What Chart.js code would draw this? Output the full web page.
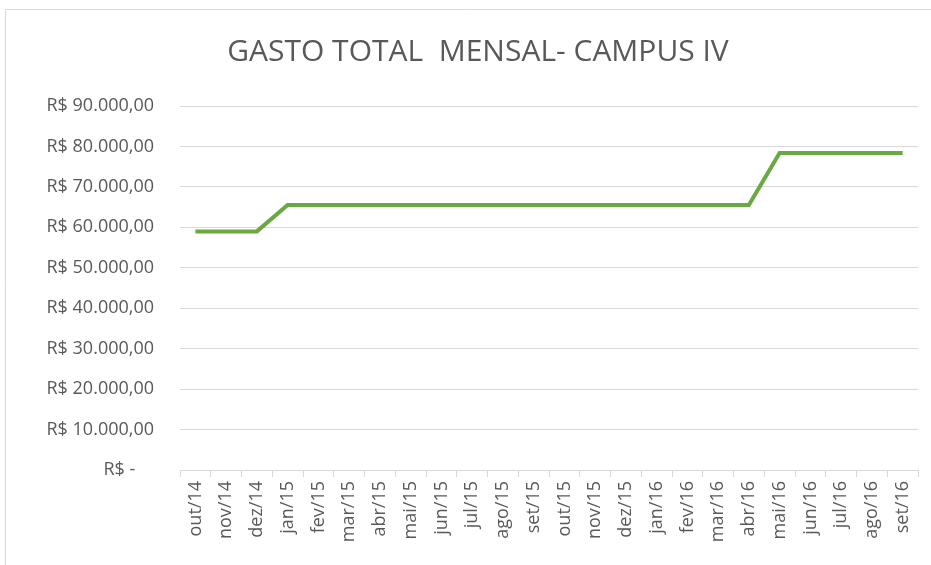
<!DOCTYPE html>
<html>
<head>
<meta charset="utf-8">
<script src="https://cdn.jsdelivr.net/npm/chart.js@4.4.1/dist/chart.umd.min.js"></script>
<style>
  html, body { margin: 0; padding: 0; background: #fff; }
  #wrap { width: 931px; height: 565px; position: relative; }
</style>
</head>
<body>
<div id="wrap"><canvas id="gasto" width="931" height="565"></canvas></div>
<script>
const months = ['out/14', 'nov/14', 'dez/14', 'jan/15', 'fev/15', 'mar/15', 'abr/15', 'mai/15',
  'jun/15', 'jul/15', 'ago/15', 'set/15', 'out/15', 'nov/15', 'dez/15', 'jan/16', 'fev/16',
  'mar/16', 'abr/16', 'mai/16', 'jun/16', 'jul/16', 'ago/16', 'set/16'];
const gastoTotal = [59000, 59000, 59000, 65500, 65500, 65500, 65500, 65500, 65500, 65500,
  65500, 65500, 65500, 65500, 65500, 65500, 65500, 65500, 65500, 78400, 78400, 78400, 78400, 78400];
const yTicks = [0, 10000, 20000, 30000, 40000, 50000, 60000, 70000, 80000, 90000];

const grey = '#595959';
const gridGrey = '#d9d9d9';

// money label like Excel's accounting format
function brl(v) {
  if (v === 0) return 'R$ -    ';
  return 'R$ ' + v.toLocaleString('pt-BR', { minimumFractionDigits: 2, maximumFractionDigits: 2 });
}

// thin frame like the Excel chart border (only top/left show in the crop)
const framePlugin = {
  id: 'frame',
  beforeDraw(chart) {
    const c = chart.ctx;
    c.save();
    c.fillStyle = '#fff';
    c.fillRect(0, 0, chart.width, chart.height);
    c.strokeStyle = gridGrey;
    c.lineWidth = 1;
    c.beginPath();
    c.moveTo(5.5, chart.height);
    c.lineTo(5.5, 9.5);
    c.lineTo(chart.width, 9.5);
    c.stroke();
    c.restore();
  }
};

const ctx = document.getElementById('gasto').getContext('2d');
new Chart(ctx, {
  type: 'line',
  data: {
    labels: months,
    datasets: [{
      label: 'Gasto total',
      data: gastoTotal,
      borderColor: '#6aa843',
      borderWidth: 4,
      pointRadius: 0,
      tension: 0,
      fill: false
    }]
  },
  options: {
    responsive: false,
    animation: false,
    layout: { padding: { left: 38, right: 13, top: 0, bottom: 0 } },
    plugins: {
      legend: { display: false },
      tooltip: { enabled: false },
      title: {
        display: true,
        text: 'GASTO TOTAL  MENSAL- CAMPUS IV',
        color: grey,
        font: { family: 'Open Sans', size: 30, weight: 'normal' },
        padding: { top: 34, bottom: 36 }
      }
    },
    scales: {
      x: {
        offset: true,
        afterFit: (scale) => { scale.height = 95; },
        grid: { display: true, offset: true, drawOnChartArea: false, color: gridGrey, tickLength: 7 },
        border: { color: gridGrey },
        ticks: {
          color: grey,
          font: { family: 'Open Sans', size: 18 },
          minRotation: 90,
          maxRotation: 90,
          autoSkip: false,
          padding: 4
        }
      },
      y: {
        min: 0,
        max: 90000,
        afterBuildTicks: (scale) => { scale.ticks = yTicks.map(v => ({ value: v })); },
        afterFit: (scale) => { scale.width = 142; },
        grid: { color: gridGrey, drawTicks: false },
        border: { display: false },
        ticks: {
          color: grey,
          font: { family: 'Open Sans', size: 18 },
          padding: 26,
          callback: (v) => brl(v)
        }
      }
    }
  },
  plugins: [framePlugin]
});
</script>
</body>
</html>
